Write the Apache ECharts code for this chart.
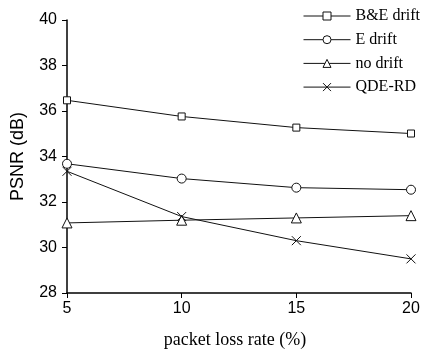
<!DOCTYPE html>
<html><head><meta charset="utf-8">
<script src="https://cdn.jsdelivr.net/npm/echarts@6/dist/echarts.min.js"></script>
<style>html,body{margin:0;padding:0;background:#fff}#c{width:423px;height:354px}</style>
</head><body><div id="c"></div>
<script>
const categories = [5, 10, 15, 20];
const beDrift = [36.47, 35.76, 35.27, 35.01];
const eDrift = [33.68, 33.03, 32.63, 32.54];
const noDrift = [31.08, 31.2, 31.3, 31.4];
const qdeRd = [33.35, 31.36, 30.3, 29.5];
const yTicks = [28, 30, 32, 34, 36, 38, 40];
const names = ['B&E drift', 'E drift', 'no drift', 'QDE-RD'];

const chart = echarts.init(document.getElementById('c'));
const crossPath = 'path://M0,0L10,10M10,0L0,10';
function mk(name, data, symbol, size) {
  return {
    name, type: 'line', data: categories.map((c, i) => [c, data[i]]),
    symbol, symbolSize: size,
    lineStyle: { color: '#111', width: 1 },
    itemStyle: { color: symbol === crossPath ? 'none' : '#fff', borderColor: '#111', borderWidth: 1 },
    emphasis: { disabled: true }, animation: false
  };
}
chart.setOption({
  animation: false,
  grid: { left: 67, right: 12, top: 20, bottom: 57 },
  legend: {
    orient: 'vertical', left: 298, top: 3, itemGap: 7.7, itemWidth: 47, itemHeight: 10,
    itemStyle: { borderWidth: 1 }, lineStyle: { width: 1 },
    textStyle: { fontFamily: 'Liberation Serif', fontSize: 16, color: '#000', lineHeight: 16 },
    data: names
  },
  xAxis: {
    type: 'value', min: 5, max: 20, interval: 5,
    name: 'packet loss rate (%)', nameLocation: 'middle', nameGap: 38,
    nameTextStyle: { fontFamily: 'Liberation Serif', fontSize: 18, color: '#000', padding: [0, 8, 0, 0] },
    axisLine: { lineStyle: { color: '#000', width: 1.5 } },
    axisTick: { inside: false, length: 5, lineStyle: { color: '#000' } },
    axisLabel: { fontFamily: 'Liberation Sans', fontSize: 16, color: '#000', margin: 8 },
    splitLine: { show: false }
  },
  yAxis: {
    type: 'value', min: 28, max: 40, interval: 2,
    name: 'PSNR (dB)', nameLocation: 'middle', nameGap: 40,
    nameTextStyle: { fontFamily: 'Liberation Sans', fontSize: 18, color: '#000' },
    axisLine: { show: true, lineStyle: { color: '#000', width: 1.5 } },
    axisTick: { show: true, inside: false, length: 5, lineStyle: { color: '#000' } },
    axisLabel: { fontFamily: 'Liberation Sans', fontSize: 16, color: '#000', margin: 10,
      formatter: v => yTicks.includes(v) ? String(v) : '' },
    splitLine: { show: false }
  },
  series: [
    mk(names[0], beDrift, 'rect', 7),
    mk(names[1], eDrift, 'circle', 9),
    mk(names[2], noDrift, 'triangle', 10),
    mk(names[3], qdeRd, crossPath, 9)
  ]
});
</script></body></html>
